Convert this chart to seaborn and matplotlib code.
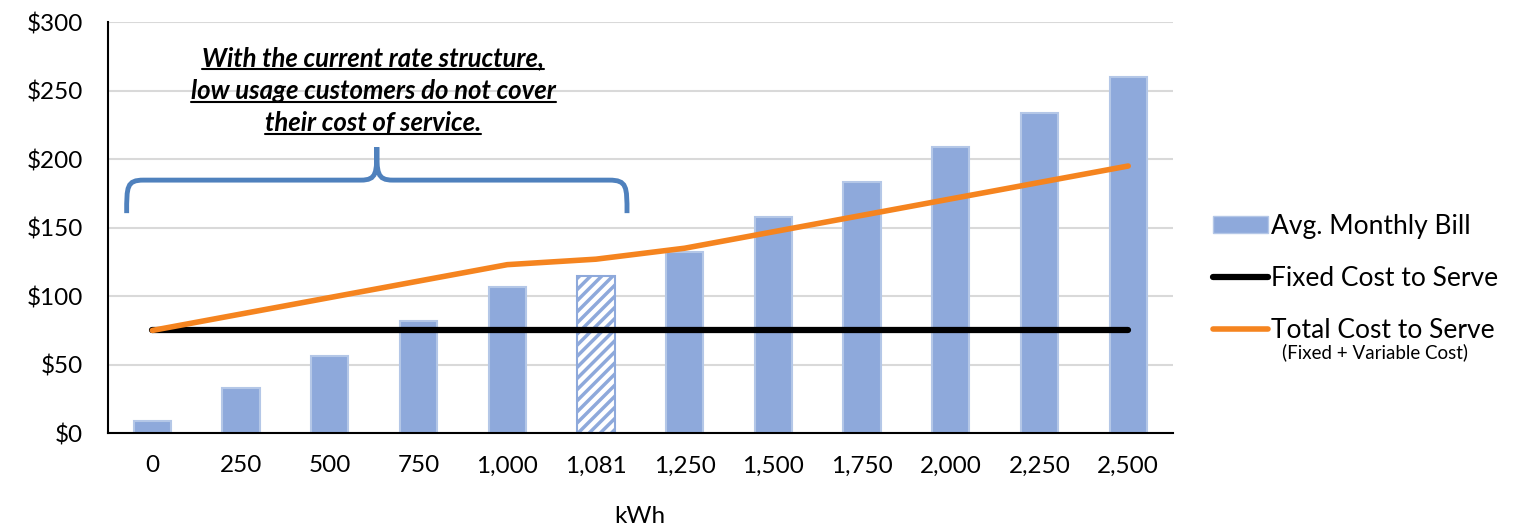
import numpy as np
import pandas as pd
import seaborn as sns
import matplotlib.pyplot as plt
from matplotlib.patches import Patch, PathPatch
from matplotlib.lines import Line2D
from matplotlib.path import Path

kwh = ['0', '250', '500', '750', '1,000', '1,081', '1,250', '1,500', '1,750', '2,000', '2,250', '2,500']
avg_bill = [9, 33, 56, 82, 107, 115, 132, 158, 183, 209, 234, 260]
fixed_cost = [75] * 12
total_cost = [75, 87, 99, 111, 123, 127, 135, 147, 159, 171, 183, 195]
note = ['With the current rate structure,',
        'low usage customers do not cover',
        'their cost of service.']

sns.set_theme(style='white')
plt.rcParams['font.family'] = ['Lato', 'DejaVu Sans']
plt.rcParams['hatch.linewidth'] = 2.5
plt.rcParams['text.color'] = 'black'
plt.rcParams['axes.labelcolor'] = 'black'
plt.rcParams['xtick.color'] = 'black'
plt.rcParams['ytick.color'] = 'black'

bar_col = '#8EA9DB'
edge_col = '#B4C7E7'
orange = '#F5841F'

df = pd.DataFrame({'kWh': kwh, 'bill': avg_bill})

fig = plt.figure(figsize=(15.13, 5.27), dpi=100)
ax = fig.add_axes([0.0714, 0.178, 0.7036, 0.78])

sns.barplot(data=df, x='kWh', y='bill', color=bar_col, width=0.42,
            edgecolor=edge_col, linewidth=1.5, saturation=1, ax=ax, zorder=2)
hb = ax.patches[5]
hb.set_facecolor('white')
hb.set_edgecolor(bar_col)
hb.set_hatch('///')

pos = np.arange(len(kwh))
sns.lineplot(x=pos, y=fixed_cost, color='black', linewidth=4.5, ax=ax, zorder=3)
sns.lineplot(x=pos, y=total_cost, color=orange, linewidth=4, ax=ax, zorder=4)

ax.set_ylim(0, 300)
ax.set_xlim(-0.5, 11.5)
ax.set_yticks(range(0, 301, 50))
ax.set_yticklabels(['$%d' % v for v in range(0, 301, 50)], fontsize=17.5)
ax.tick_params(axis='x', labelsize=17.5, pad=10)
ax.tick_params(axis='y', pad=12)
ax.set_xlabel('kWh', fontsize=17.5, labelpad=21)
ax.set_ylabel('')
ax.yaxis.grid(True, color='#D9D9D9', linewidth=1.5, zorder=0)
ax.set_axisbelow(True)
for s in ['top', 'right']:
    ax.spines[s].set_visible(False)
ax.spines['left'].set_color('black')
ax.spines['bottom'].set_color('black')
ax.spines['left'].set_linewidth(1.5)
ax.spines['bottom'].set_linewidth(1.5)

# brace
verts = [(-0.29, 160.6), (-0.29, 180), (-0.29, 184.7), (-0.1, 184.7),
         (2.35, 184.7),
         (2.53, 184.7), (2.53, 190), (2.53, 208.8),
         (2.53, 190), (2.53, 184.7), (2.71, 184.7),
         (5.15, 184.7),
         (5.35, 184.7), (5.35, 180), (5.35, 160.6)]
codes = [Path.MOVETO, Path.CURVE4, Path.CURVE4, Path.CURVE4,
         Path.LINETO,
         Path.CURVE4, Path.CURVE4, Path.CURVE4,
         Path.CURVE4, Path.CURVE4, Path.CURVE4,
         Path.LINETO,
         Path.CURVE4, Path.CURVE4, Path.CURVE4]
ax.add_patch(PathPatch(Path(verts, codes), facecolor='none', edgecolor='#4F81BD',
                       linewidth=3.5, zorder=5))

texts = []
for line, yv in zip(note, [273.7, 249.6, 226.3]):
    t = ax.text(2.49, yv, line, ha='center', va='center', fontsize=18.5,
                fontweight='bold', fontstyle='italic', color='black', zorder=6)
    texts.append(t)

handles = [Patch(facecolor=bar_col, edgecolor=edge_col),
           Line2D([0], [0], color='black', linewidth=4.5),
           Line2D([0], [0], color=orange, linewidth=4)]
labels = ['Avg. Monthly Bill', 'Fixed Cost to Serve', 'Total Cost to Serve']
fig.legend(handles, labels, loc='upper left', bbox_to_anchor=(0.8017, 0.594),
           frameon=False, fontsize=19, handlelength=2.1, handleheight=0.6,
           handletextpad=0.1, labelspacing=1.03, borderaxespad=0, borderpad=0)
fig.text(0.9085, 0.332, '(Fixed + Variable Cost)', ha='center', va='center', fontsize=13.5)

# underline the note
fig.canvas.draw()
inv = fig.transFigure.inverted()
for t in texts:
    bb = t.get_window_extent()
    (x0, y0), (x1, y1) = inv.transform([(bb.x0, bb.y0), (bb.x1, bb.y1)])
    fig.add_artist(Line2D([x0, x1], [y0 + 0.002, y0 + 0.002], color='black',
                          linewidth=1.5, transform=fig.transFigure))

fig.savefig('out.png', dpi=100)
